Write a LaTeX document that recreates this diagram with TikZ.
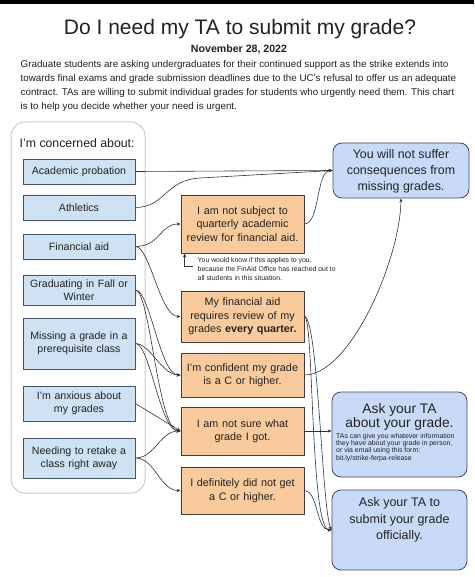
\documentclass[tikz,border=0pt]{standalone}
\usepackage{fontspec}
\setmainfont{Liberation Sans}
\usetikzlibrary{arrows.meta}
\definecolor{bluefill}{HTML}{CFE2F3}
\definecolor{blueline}{HTML}{44546A}
\definecolor{orfill}{HTML}{F9CB9C}
\definecolor{orline}{HTML}{4A3A30}
\definecolor{rfill}{HTML}{C9DAF8}
\definecolor{rline}{HTML}{3D4A66}
\definecolor{contline}{HTML}{CCCCCC}
\definecolor{txt}{HTML}{222222}
\definecolor{conn}{HTML}{333333}
\tikzset{
  leftbox/.style={draw=blueline, fill=bluefill, line width=0.8pt, minimum width=112pt, text width=106pt, align=center, inner sep=0pt, text=txt, font=\fontsize{10.6}{13}\selectfont},
  orbox/.style={draw=orline, fill=orfill, line width=0.8pt, minimum width=123pt, text width=117pt, align=center, inner sep=0pt, text=txt, font=\fontsize{10.8}{13.5}\selectfont},
  rbox/.style={draw=rline, fill=rfill, line width=0.8pt, rounded corners=9pt, minimum width=135pt, inner sep=0pt},
  arr/.style={draw=conn, line width=0.6pt, -{Stealth[length=4pt,width=3.2pt]}},
}
\begin{document}
\begin{tikzpicture}[x=1pt,y=-1pt]
\useasboundingbox (0,0) rectangle (474,577);
\fill[white] (0,0) rectangle (474,577);
\fill[black] (0,0) rectangle (474,4);

% header
\node[text=txt, font=\fontsize{21}{24}\selectfont, inner sep=0pt] (title) at (240,29) {Do I need my TA to submit my grade?};
\node[text=txt, font=\bfseries\fontsize{10.6}{12}\selectfont, inner sep=0pt] (date) at (239,49.5) {November 28, 2022};
\node[text=txt, font=\fontsize{9.8}{14}\selectfont, inner sep=0pt, align=left, anchor=west] (intro) at (20.5,86)
 {Graduate students are asking undergraduates for their continued support as the strike extends into\\
  towards final exams and grade submission deadlines due to the UC's refusal to offer us an adequate\\
  contract. TAs are willing to submit individual grades for students who urgently need them. This chart\\
  is to help you decide whether your need is urgent.};

% container
\draw[contline, line width=1pt, rounded corners=14pt] (11,122) rectangle (145,493);
\node[text=txt, font=\fontsize{12.3}{14}\selectfont, inner sep=0pt, anchor=west] (concern) at (19.5,143) {I'm concerned about:};

% left boxes
\node[leftbox, minimum height=25pt] (acad) at (79,171.5) {Academic probation};
\node[leftbox, minimum height=25pt] (athl) at (79,207.5) {Athletics};
\node[leftbox, minimum height=25pt] (fin) at (79,246.5) {Financial aid};
\node[leftbox, minimum height=30pt] (grad) at (79,290) {Graduating in Fall or\\Winter};
\node[leftbox, minimum height=51pt] (miss) at (79,343.5) {Missing a grade in a\\prerequisite class};
\node[leftbox, minimum height=35pt] (anx) at (79,403.5) {I'm anxious about\\my grades};
\node[leftbox, minimum height=40pt] (need) at (79,458) {Needing to retake a\\class right away};

% orange boxes
\node[orbox, minimum height=58pt] (o1) at (242.5,224) {I am not subject to\\quarterly academic\\review for financial aid.};
\node[orbox, minimum height=51pt] (o2) at (242.5,316.5) {My financial aid\\requires review of my\\grades \textbf{every quarter.}};
\node[orbox, minimum height=44pt] (conf) at (242.5,375) {I'm confident my grade\\is a C or higher.};
\node[orbox, minimum height=48pt] (ns) at (242.5,431) {I am not sure what\\grade I got.};
\node[orbox, minimum height=47pt] (def) at (242.5,490.5) {I definitely did not get\\a C or higher.};

% note under o1
\node[text=txt, font=\fontsize{6.9}{9}\selectfont, inner sep=0pt, align=left, anchor=west] (note) at (197.5,269)
 {You would know if this applies to you,\\because the FinAid Office has reached out to\\all students in this situation.};
\coordinate (nb) at (193,266);

% right boxes
\node[rbox, minimum height=55pt, minimum width=136pt] (yw) at (401,170.5) {};
\node[text=txt, font=\fontsize{12.4}{16}\selectfont, align=center, inner sep=0pt] (ywt) at (401,171) {You will not suffer\\consequences from\\missing grades.};
\node[rbox, minimum height=85pt] (ask1) at (399.5,434.5) {};
\node[text=txt, font=\fontsize{13.8}{13.5}\selectfont, align=center, inner sep=0pt] (ask1t) at (399.5,417) {Ask your TA\\about your grade.};
\node[text=txt, font=\fontsize{6.9}{7.2}\selectfont, align=left, inner sep=0pt, anchor=west] (ask1s) at (336,447.5)
 {TAs can give you whatever information\\they have about your grade in person,\\or via email using this form:\\bit.ly/strike-ferpa-release};
\node[rbox, minimum height=80pt] (ask2) at (399.5,530) {};
\node[text=txt, font=\fontsize{12.5}{16.5}\selectfont, align=center, inner sep=0pt] (ask2t) at (399.5,520) {Ask your TA to\\submit your grade\\officially.};

% connectors
\draw[arr] (acad.east) -- (yw.west);
\draw[arr] (athl.east) .. controls (165,207.5) and (165,180) .. (200,178) -- (yw.west);
\draw[arr] (o1.east) .. controls (320,224) and (316,170.5) .. (yw.west);
\draw[arr] (fin.east) .. controls (160,246.5) and (160,224) .. (o1.west);
\draw[arr] (fin.east) .. controls (150,246.5) and (160,316.5) .. (o2.west);
\draw[arr] (grad.east) .. controls (150,290) and (160,375) .. (conf.west);
\draw[arr] (grad.east) .. controls (150,290) and (158,431) .. (ns.west);
\draw[arr] (miss.east) .. controls (150,343.5) and (162,375) .. (conf.west);
\draw[arr] (miss.east) .. controls (150,343.5) and (160,431) .. (ns.west);
\draw[arr] (anx.east) -- (ns.west);
\draw[arr] (need.east) .. controls (155,458) and (160,431) .. (ns.west);
\draw[arr] (need.east) .. controls (155,458) and (160,490.5) .. (def.west);
\draw[arr] (nb) -| ([xshift=4pt]o1.south west);
\draw[arr] (conf.east) .. controls (350,375) and (400,260) .. (yw.south);
\draw[arr] (ns.east) -- (ns.east -| ask1.west);
\draw[arr] (o2.east) .. controls (314,316.5) and (310,530) .. (ask2.west);
\draw[arr] (o2.east) .. controls (318,316.5) and (322,510) .. (ask2.west);
\draw[arr] (def.east) .. controls (318,490.5) and (316,530) .. (ask2.west);
\end{tikzpicture}
\end{document}
